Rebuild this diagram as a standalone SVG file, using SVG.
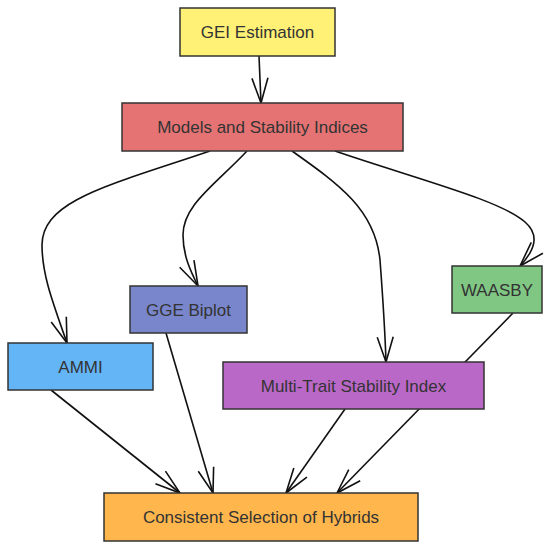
<svg xmlns="http://www.w3.org/2000/svg" width="550" height="550" viewBox="0 0 550 550">
<style>
.box{stroke:#333;stroke-width:1.5}
.lbl{font-family:"Liberation Sans",Arial,sans-serif;font-size:17px;fill:#333;text-anchor:middle}
.edge{fill:none;stroke:#111;stroke-width:1.6}
</style>
<defs>
<marker id="arr" markerUnits="userSpaceOnUse" viewBox="0 0 28 20" refX="26" refY="10" markerWidth="28" markerHeight="20" orient="auto">
<path d="M1,2 L26,10 L1,18" fill="none" stroke="#111" stroke-width="1.6"/>
</marker>
</defs>
<rect width="550" height="550" fill="#fff"/>
<g id="connectors">
<path class="edge" d="M259,56 L261,103" marker-end="url(#arr)"/>
<path class="edge" d="M210,151 C110,185 42,200 42,245 C42,275 53,303 67,343" marker-end="url(#arr)"/>
<path class="edge" d="M247,151 C215,185 183,205 183,235 C183,255 190,270 198,286" marker-end="url(#arr)"/>
<path class="edge" d="M292,151 C340,185 375,210 380,260 C383,300 385,330 386,362" marker-end="url(#arr)"/>
<path class="edge" d="M335,151 C420,180 500,200 525,222 C540,235 535,250 520,266" marker-end="url(#arr)"/>
<path class="edge" d="M51,390 L180,493" marker-end="url(#arr)"/>
<path class="edge" d="M166,333 L213,493" marker-end="url(#arr)"/>
<path class="edge" d="M345,409 L286,493" marker-end="url(#arr)"/>
<path class="edge" d="M513,313 L337,493" marker-end="url(#arr)"/>
</g>
<g id="gei">
<rect class="box" x="180" y="8" width="155" height="48" fill="#FFF176"/>
<text class="lbl" x="257.5" y="38">GEI Estimation</text>
</g>
<g id="models">
<rect class="box" x="122" y="103" width="281" height="48" fill="#E57373"/>
<text class="lbl" x="262.5" y="133">Models and Stability Indices</text>
</g>
<g id="gge">
<rect class="box" x="130" y="286" width="117" height="47" fill="#7986CB"/>
<text class="lbl" x="188.5" y="315.5">GGE Biplot</text>
</g>
<g id="ammi">
<rect class="box" x="8" y="343" width="145" height="47" fill="#64B5F6"/>
<text class="lbl" x="80.5" y="372.5">AMMI</text>
</g>
<g id="waasby">
<rect class="box" x="452" y="266" width="90" height="47" fill="#81C784"/>
<text class="lbl" x="497" y="295.5">WAASBY</text>
</g>
<g id="mtsi">
<rect class="box" x="223" y="362" width="261" height="47" fill="#BA68C8"/>
<text class="lbl" x="353.5" y="391.5">Multi-Trait Stability Index</text>
</g>
<g id="consistent">
<rect class="box" x="104" y="493" width="314" height="48" fill="#FFB74D"/>
<text class="lbl" x="261" y="523">Consistent Selection of Hybrids</text>
</g>
</svg>
